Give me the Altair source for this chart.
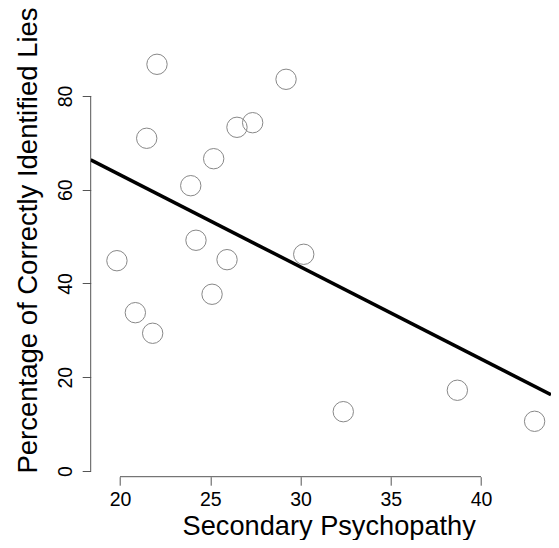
import altair as alt
import pandas as pd

# Data
secondary = [22.05, 29.20, 21.48, 26.48, 27.35, 25.19, 23.92, 24.21, 19.83,
             25.93, 30.18, 25.10, 20.85, 21.81, 32.37, 38.69, 42.97]
lies = [86.76, 83.56, 70.98, 73.32, 74.30, 66.62, 60.86, 49.22, 44.86,
        45.08, 46.23, 37.70, 33.77, 29.38, 12.65, 17.22, 10.60]
x_ticks = [20, 25, 30, 35, 40]
y_ticks = [0, 20, 40, 60, 80]

df = pd.DataFrame({"x": secondary, "y": lies})

W = 460.3
H = 468.7
x_dom = [18.377, 18.377 + W / 18.05]
y_dom = [-1.22, 98.77]

xs = alt.Scale(domain=x_dom, nice=False, zero=False)
ys = alt.Scale(domain=y_dom, nice=False, zero=False)

FONT = "Liberation Sans"
AXC = "#555555"

ax_x = alt.Axis(
    values=x_ticks, title="Secondary Psychopathy", domain=False, grid=False,
    tickColor=AXC, tickSize=8.5, tickWidth=1,
    labelFont=FONT, labelFontSize=19.5, labelColor="black",
    labelBaseline="alphabetic", labelAlign="center", labelPadding=20.0,
    labelFlush=False, labelOverlap=False,
    titleFont=FONT, titleFontSize=27.2, titleFontWeight="normal", titleColor="black",
    titleX=238, titleY=57.3, titleAlign="center", titleBaseline="alphabetic",
)
ax_y = alt.Axis(
    values=y_ticks, title="Percentage of Correctly Identified Lies", domain=False, grid=False,
    tickColor=AXC, tickSize=8.5, tickWidth=1,
    labelFont=FONT, labelFontSize=19.5, labelColor="black",
    labelAngle=270, labelBaseline="alphabetic", labelAlign="center", labelPadding=11.2,
    labelOverlap=False,
    titleFont=FONT, titleFontSize=27.5, titleFontWeight="normal", titleColor="black",
    titleAngle=270, titleX=-53.7, titleY=232, titleAlign="center", titleBaseline="alphabetic",
)

points = alt.Chart(df).mark_point(
    shape="circle", filled=False, size=415, color="#888888", strokeWidth=1, opacity=1
).encode(
    x=alt.X("x:Q", scale=xs, axis=ax_x),
    y=alt.Y("y:Q", scale=ys, axis=ax_y),
)

fit = alt.Chart(df).transform_regression(
    "x", "y", method="linear", extent=x_dom
).mark_line(color="black", strokeWidth=3.5, clip=True).encode(
    x=alt.X("x:Q", scale=xs, axis=ax_x),
    y=alt.Y("y:Q", scale=ys, axis=ax_y),
)

xline = alt.Chart(pd.DataFrame({"a": [x_ticks[0]], "b": [x_ticks[-1]]})).mark_rule(
    color=AXC, strokeWidth=1
).encode(
    x=alt.X("a:Q", scale=xs, axis=ax_x),
    x2="b:Q",
    y=alt.value(H),
)

yline = alt.Chart(pd.DataFrame({"a": [y_ticks[0]], "b": [y_ticks[-1]]})).mark_rule(
    color=AXC, strokeWidth=1
).encode(
    y=alt.Y("a:Q", scale=ys, axis=ax_y),
    y2="b:Q",
    x=alt.value(0),
)

chart = alt.layer(xline, yline, points, fit).properties(
    width=W, height=H,
    autosize=alt.AutoSizeParams(type="none"),
    padding={"left": 82.7, "top": 0, "right": 0, "bottom": 532 - H},
    background="white",
).configure_view(stroke=None)

chart.save("out.html", embed_options={"renderer": "svg", "actions": False})
